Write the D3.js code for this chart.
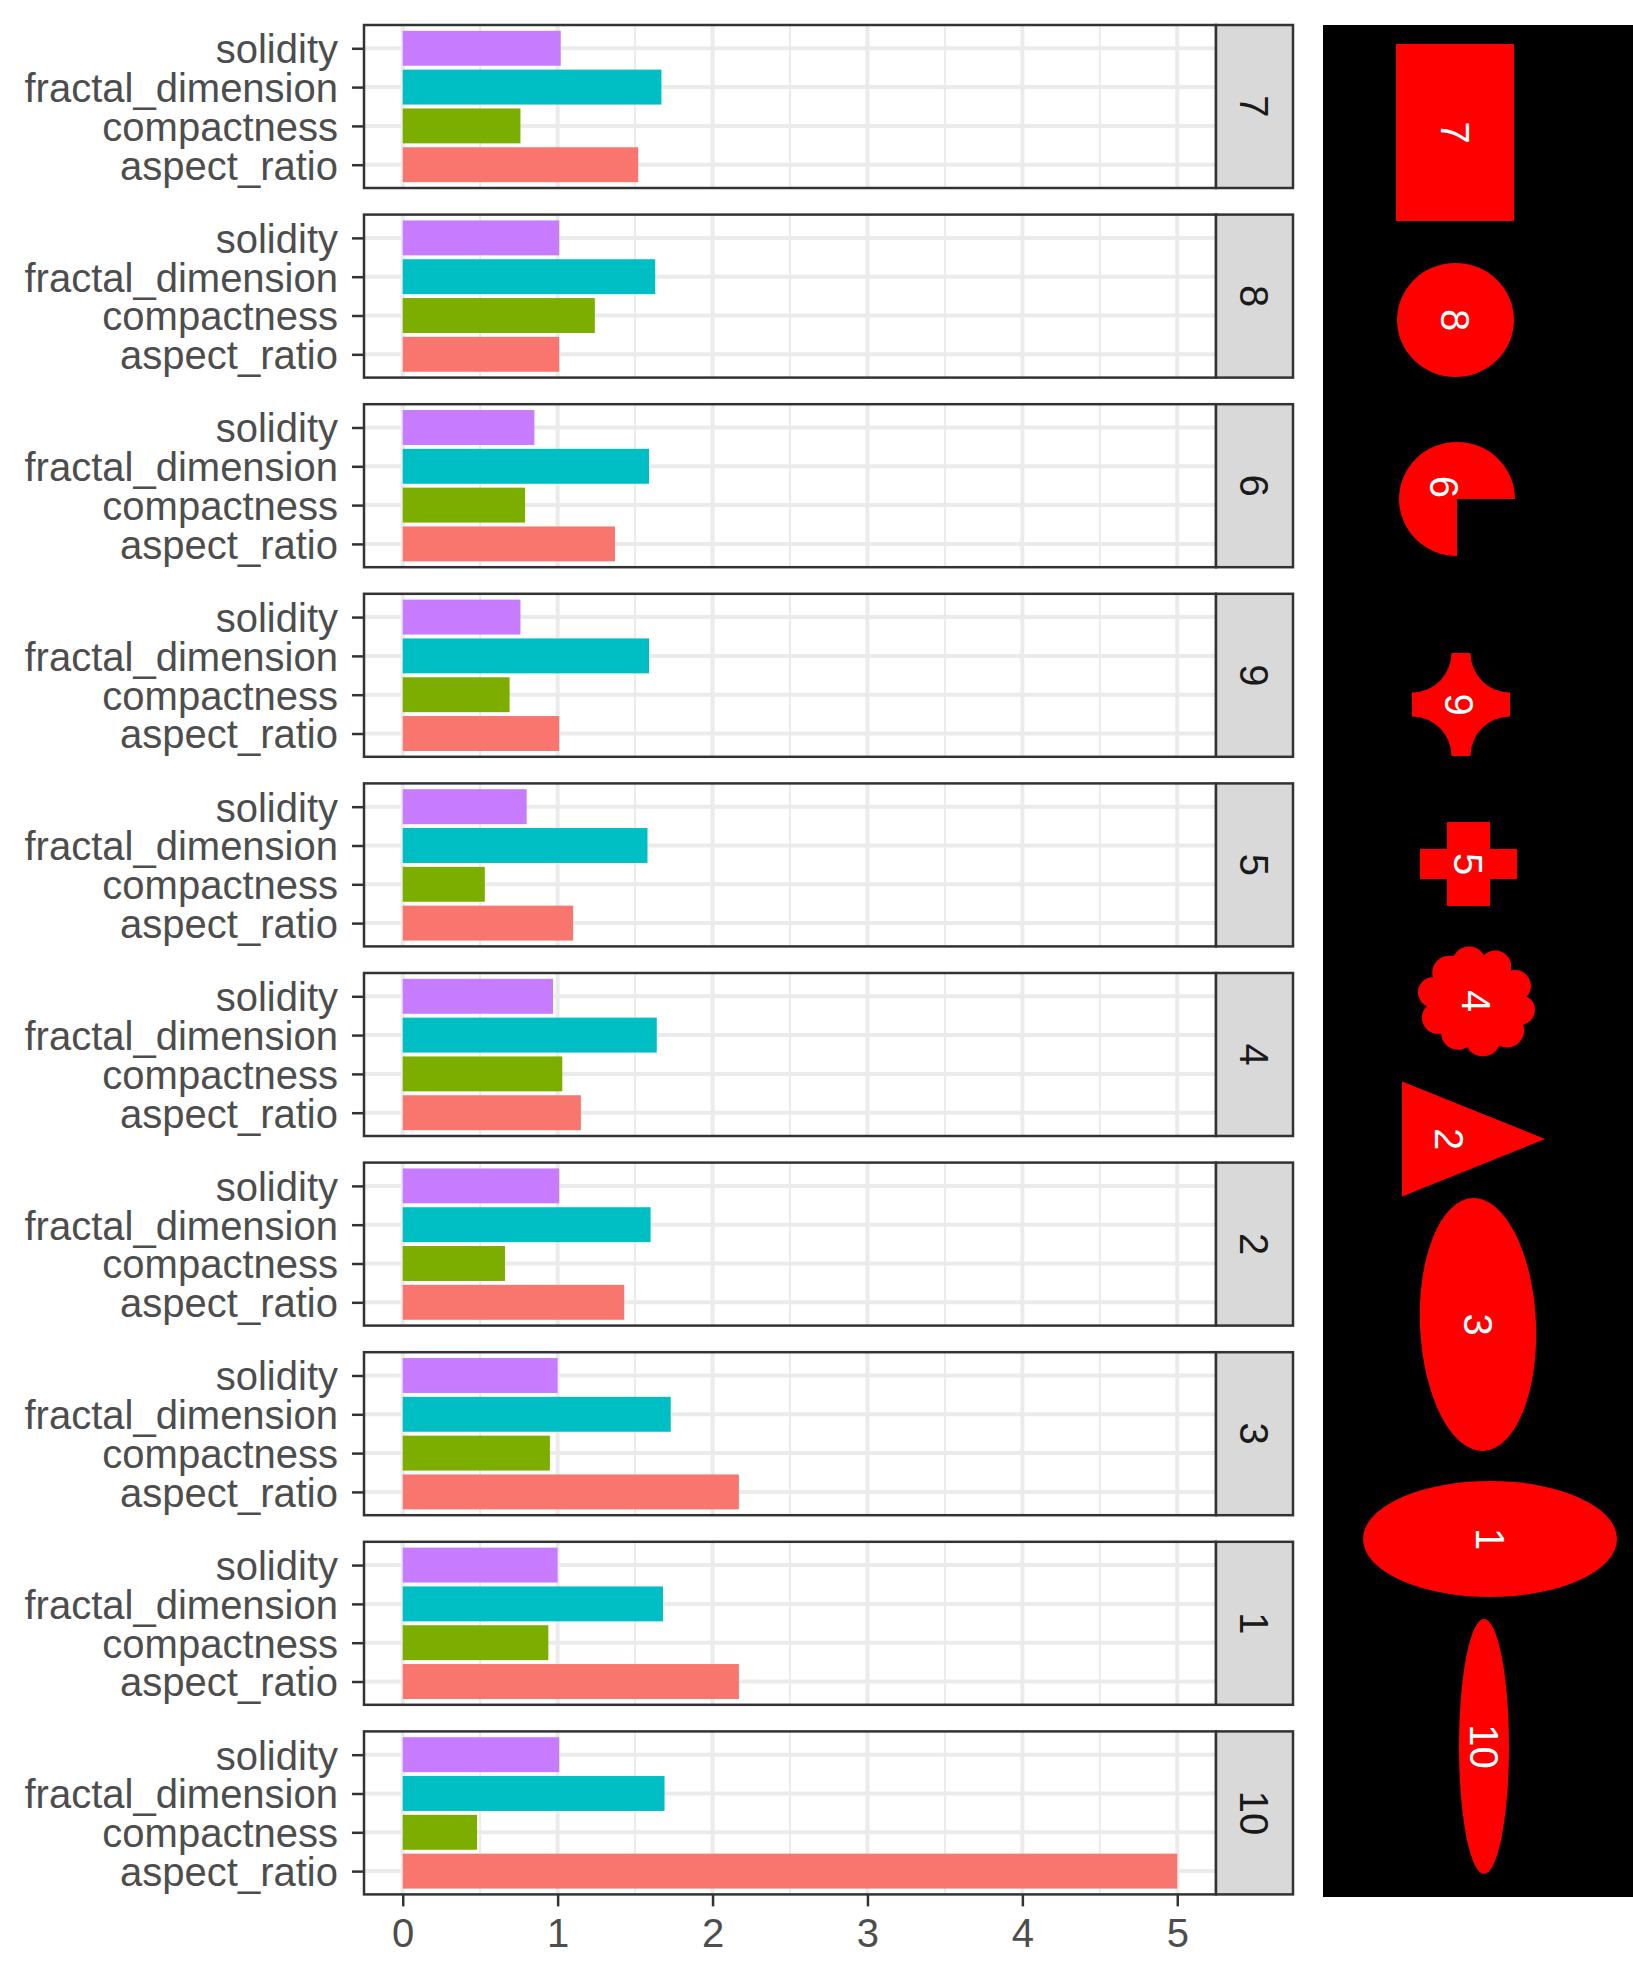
<!DOCTYPE html>
<html>
<head>
<meta charset="utf-8">
<script src="https://cdn.jsdelivr.net/npm/d3@7"></script>
<style>
  html, body { margin: 0; padding: 0; background: #fff; }
  svg { display: block; }
  text { font-family: "Liberation Sans", Arial, Helvetica, sans-serif; }
</style>
</head>
<body>
<svg id="chart" width="1633" height="1980"></svg>
<script>
// ---------------- data ----------------
const panels = ["7", "8", "6", "9", "5", "4", "2", "3", "1", "10"];
const features = ["solidity", "fractal_dimension", "compactness", "aspect_ratio"]; // top to bottom
const aspectRatio      = [1.52, 1.01, 1.37, 1.01, 1.10, 1.15, 1.43, 2.17, 2.17, 5.00];
const compactness      = [0.76, 1.24, 0.79, 0.69, 0.53, 1.03, 0.66, 0.95, 0.94, 0.48];
const fractalDimension = [1.67, 1.63, 1.59, 1.59, 1.58, 1.64, 1.60, 1.73, 1.68, 1.69];
const solidity         = [1.02, 1.01, 0.85, 0.76, 0.80, 0.97, 1.01, 1.00, 1.00, 1.01];
const xTicks = [0, 1, 2, 3, 4, 5];
const featureColors = ["#C77CFF", "#00BFC4", "#7CAE00", "#F8766D"];

// shape outlines shown on the right (in the shape panel's own pixel units)
const shapeKinds = ["rect", "ellipse", "pacman", "star", "cross", "cloud", "triangle", "ellipse", "ellipse", "ellipse"];
const shapeCx = [132, 132.5, 134, 138, 145.5, 153, 126.7, 155, 167, 161];
const shapeCy = [107.5, 295, 474, 679.5, 839, 976, 1114, 1299.5, 1514, 1721.5];
const shapeRx = [59, 58.5, 58, 49, 48.5, 44, 71.5, 58, 127, 25];
const shapeRy = [88.5, 57, 57, 51.5, 42, 44, 57.5, 126.5, 58, 127.5];

// ---------------- layout ----------------
const svg = d3.select("#chart");
const W = 1633, H = 1980;
const panelLeft = 364, panelRight = 1216, stripRight = 1293;
const top0 = 25, bottom0 = 1894.4;

const rows = panels.map((p, i) => ({
  panel: p,
  values: [solidity[i], fractalDimension[i], compactness[i], aspectRatio[i]]
}));

const maxVal = d3.max(aspectRatio);
const x = d3.scaleLinear()
  .domain([-0.05 * maxVal, 1.05 * maxVal])
  .range([panelLeft, panelRight]);

const fy = d3.scaleBand()
  .domain(panels)
  .range([top0, bottom0])
  .paddingInner(0.1403)
  .paddingOuter(0);

const ph = fy.bandwidth();
const y = d3.scalePoint().domain(features).range([0, ph]).padding(0.6);
const barH = y.step() * 0.9;

const minorTicks = d3.pairs(xTicks).map(([a, b]) => (a + b) / 2);

const grid = "#EBEBEB", dark = "#333333";

const g = svg.append("g");

rows.forEach((row, i) => {
  const pg = g.append("g").attr("transform", `translate(0,${fy(row.panel)})`);

  pg.append("rect")
    .attr("x", panelLeft).attr("y", 0)
    .attr("width", panelRight - panelLeft).attr("height", ph)
    .attr("fill", "#fff");

  // minor grid
  pg.selectAll("line.minor").data(minorTicks).join("line")
    .attr("x1", d => x(d)).attr("x2", d => x(d))
    .attr("y1", 0).attr("y2", ph)
    .attr("stroke", grid).attr("stroke-width", 2);
  // major grid vertical
  pg.selectAll("line.majx").data(xTicks).join("line")
    .attr("x1", d => x(d)).attr("x2", d => x(d))
    .attr("y1", 0).attr("y2", ph)
    .attr("stroke", grid).attr("stroke-width", 4);
  // major grid horizontal
  pg.selectAll("line.majy").data(features).join("line")
    .attr("x1", panelLeft).attr("x2", panelRight)
    .attr("y1", d => y(d)).attr("y2", d => y(d))
    .attr("stroke", grid).attr("stroke-width", 4);

  // bars
  pg.selectAll("rect.bar").data(features.map((f, k) => ({ f, v: row.values[k], c: featureColors[k] })))
    .join("rect")
    .attr("x", x(0))
    .attr("y", d => y(d.f) - barH / 2)
    .attr("width", d => x(d.v) - x(0))
    .attr("height", barH)
    .attr("fill", d => d.c);

  // border
  pg.append("rect")
    .attr("x", panelLeft).attr("y", 0)
    .attr("width", panelRight - panelLeft).attr("height", ph)
    .attr("fill", "none").attr("stroke", dark).attr("stroke-width", 2.5);

  // strip
  pg.append("rect")
    .attr("x", panelRight).attr("y", 0)
    .attr("width", stripRight - panelRight).attr("height", ph)
    .attr("fill", "#D9D9D9").attr("stroke", dark).attr("stroke-width", 2.5);
  pg.append("text")
    .attr("transform", `translate(${(panelRight + stripRight) / 2},${ph / 2}) rotate(90)`)
    .attr("text-anchor", "middle")
    .attr("dy", "0.36em")
    .attr("font-size", 40)
    .attr("fill", "#1A1A1A")
    .text(row.panel);

  // y axis
  const ya = pg.append("g")
    .attr("transform", `translate(${panelLeft},0)`)
    .call(d3.axisLeft(y).tickSize(12).tickPadding(14));
  ya.select(".domain").remove();
  ya.selectAll(".tick line").attr("stroke", dark).attr("stroke-width", 2.5);
  ya.selectAll(".tick text")
    .attr("font-size", 40).attr("fill", "#4D4D4D")
    .attr("font-family", "'Liberation Sans', Arial, sans-serif")
    .attr("dy", "0.36em");
});

// x axis at bottom
const xa = svg.append("g")
  .attr("transform", `translate(0,${fy(panels[panels.length - 1]) + ph})`)
  .call(d3.axisBottom(x).tickValues(xTicks).tickFormat(d3.format("d")).tickSize(12).tickPadding(12));
xa.select(".domain").remove();
xa.selectAll(".tick line").attr("stroke", dark).attr("stroke-width", 2.5);
xa.selectAll(".tick text")
  .attr("font-size", 40).attr("fill", "#4D4D4D")
  .attr("font-family", "'Liberation Sans', Arial, sans-serif");

// ---------------- shape panel ----------------
const spLeft = 1323, spTop = 25, spW = 310, spH = 1872;
const sx = d3.scaleLinear().domain([0, spW]).range([spLeft, spLeft + spW]);
const sy = d3.scaleLinear().domain([0, spH]).range([spTop, spTop + spH]);

svg.append("rect")
  .attr("x", sx(0)).attr("y", sy(0))
  .attr("width", sx(spW) - sx(0)).attr("height", sy(spH) - sy(0))
  .attr("fill", "#000");

const sg = svg.append("g");
const red = "#FF0000";

panels.forEach((p, i) => {
  const kind = shapeKinds[i];
  const cx = sx(shapeCx[i]), cy = sy(shapeCy[i]);
  const rx = shapeRx[i], ry = shapeRy[i];
  let lx = cx, ly = cy;
  if (kind === "rect") {
    sg.append("rect").attr("x", cx - rx).attr("y", cy - ry)
      .attr("width", 2 * rx).attr("height", 2 * ry).attr("fill", red);
  } else if (kind === "ellipse") {
    const rot = (p === "3") ? -2.5 : 0;
    sg.append("ellipse").attr("cx", cx).attr("cy", cy).attr("rx", rx).attr("ry", ry)
      .attr("transform", `rotate(${rot},${cx},${cy})`).attr("fill", red);
  } else if (kind === "pacman") {
    const path = d3.path();
    path.moveTo(cx, cy);
    path.lineTo(cx, cy + ry);
    sg.append("path")
      .attr("d", `M${cx},${cy} L${cx},${cy + ry} A${rx},${ry} 0 1 1 ${cx + rx},${cy} Z`)
      .attr("fill", red);
    const off = 4 / (3 * Math.PI) / 3;
    lx = cx - rx * off - 4; ly = cy - ry * off - 4;
  } else if (kind === "star") {
    const tw = 9.5, th = 12, r = 39.5;
    const d = `M${cx - tw},${cy - ry} L${cx + tw},${cy - ry} A${r},${r} 0 0 0 ${cx + rx},${cy - th}` +
      ` L${cx + rx},${cy + th} A${r},${r} 0 0 0 ${cx + tw},${cy + ry}` +
      ` L${cx - tw},${cy + ry} A${r},${r} 0 0 0 ${cx - rx},${cy + th}` +
      ` L${cx - rx},${cy - th} A${r},${r} 0 0 0 ${cx - tw},${cy - ry} Z`;
    sg.append("path").attr("d", d).attr("fill", red);
    lx = cx - 2;
  } else if (kind === "cross") {
    const aw = 21.5, ah = 15;
    const pts = [
      [cx - aw, cy - ry], [cx + aw, cy - ry], [cx + aw, cy - ah], [cx + rx, cy - ah],
      [cx + rx, cy + ah], [cx + aw, cy + ah], [cx + aw, cy + ry], [cx - aw, cy + ry],
      [cx - aw, cy + ah], [cx - rx, cy + ah], [cx - rx, cy - ah], [cx - aw, cy - ah]
    ];
    sg.append("polygon").attr("points", pts.map(q => q.join(",")).join(" ")).attr("fill", red);
  } else if (kind === "cloud") {
    sg.append("circle").attr("cx", cx).attr("cy", cy).attr("r", 44).attr("fill", red);
    const bumpAng = [-100, -62, -22, 12, 45, 80, 118, 155, 192, 228];
    const bumpDist = [40, 41, 42, 45, 44, 40, 38, 42, 44, 40];
    const bumpR = [17, 16, 16, 15, 17, 18, 17, 16, 15, 17];
    bumpAng.forEach((a, k) => {
      const t = a * Math.PI / 180;
      sg.append("circle")
        .attr("cx", cx + bumpDist[k] * Math.cos(t))
        .attr("cy", cy + bumpDist[k] * Math.sin(t) * 0.95)
        .attr("r", bumpR[k]).attr("fill", red);
    });
  } else if (kind === "triangle") {
    const x0 = cx - rx * 0.6667 + 0.0, xL = sx(79), xR = sx(222);
    const pts = [[xL, cy - ry], [xL, cy + ry], [xR, cy]];
    sg.append("polygon").attr("points", pts.map(q => q.join(",")).join(" ")).attr("fill", red);
    lx = (xL + xL + xR) / 3;
  }
  sg.append("text")
    .attr("transform", `translate(${lx},${ly}) rotate(90)`)
    .attr("text-anchor", "middle")
    .attr("dy", "0.36em")
    .attr("font-size", 40)
    .attr("fill", "#fff")
    .text(p);
});
</script>
</body>
</html>
